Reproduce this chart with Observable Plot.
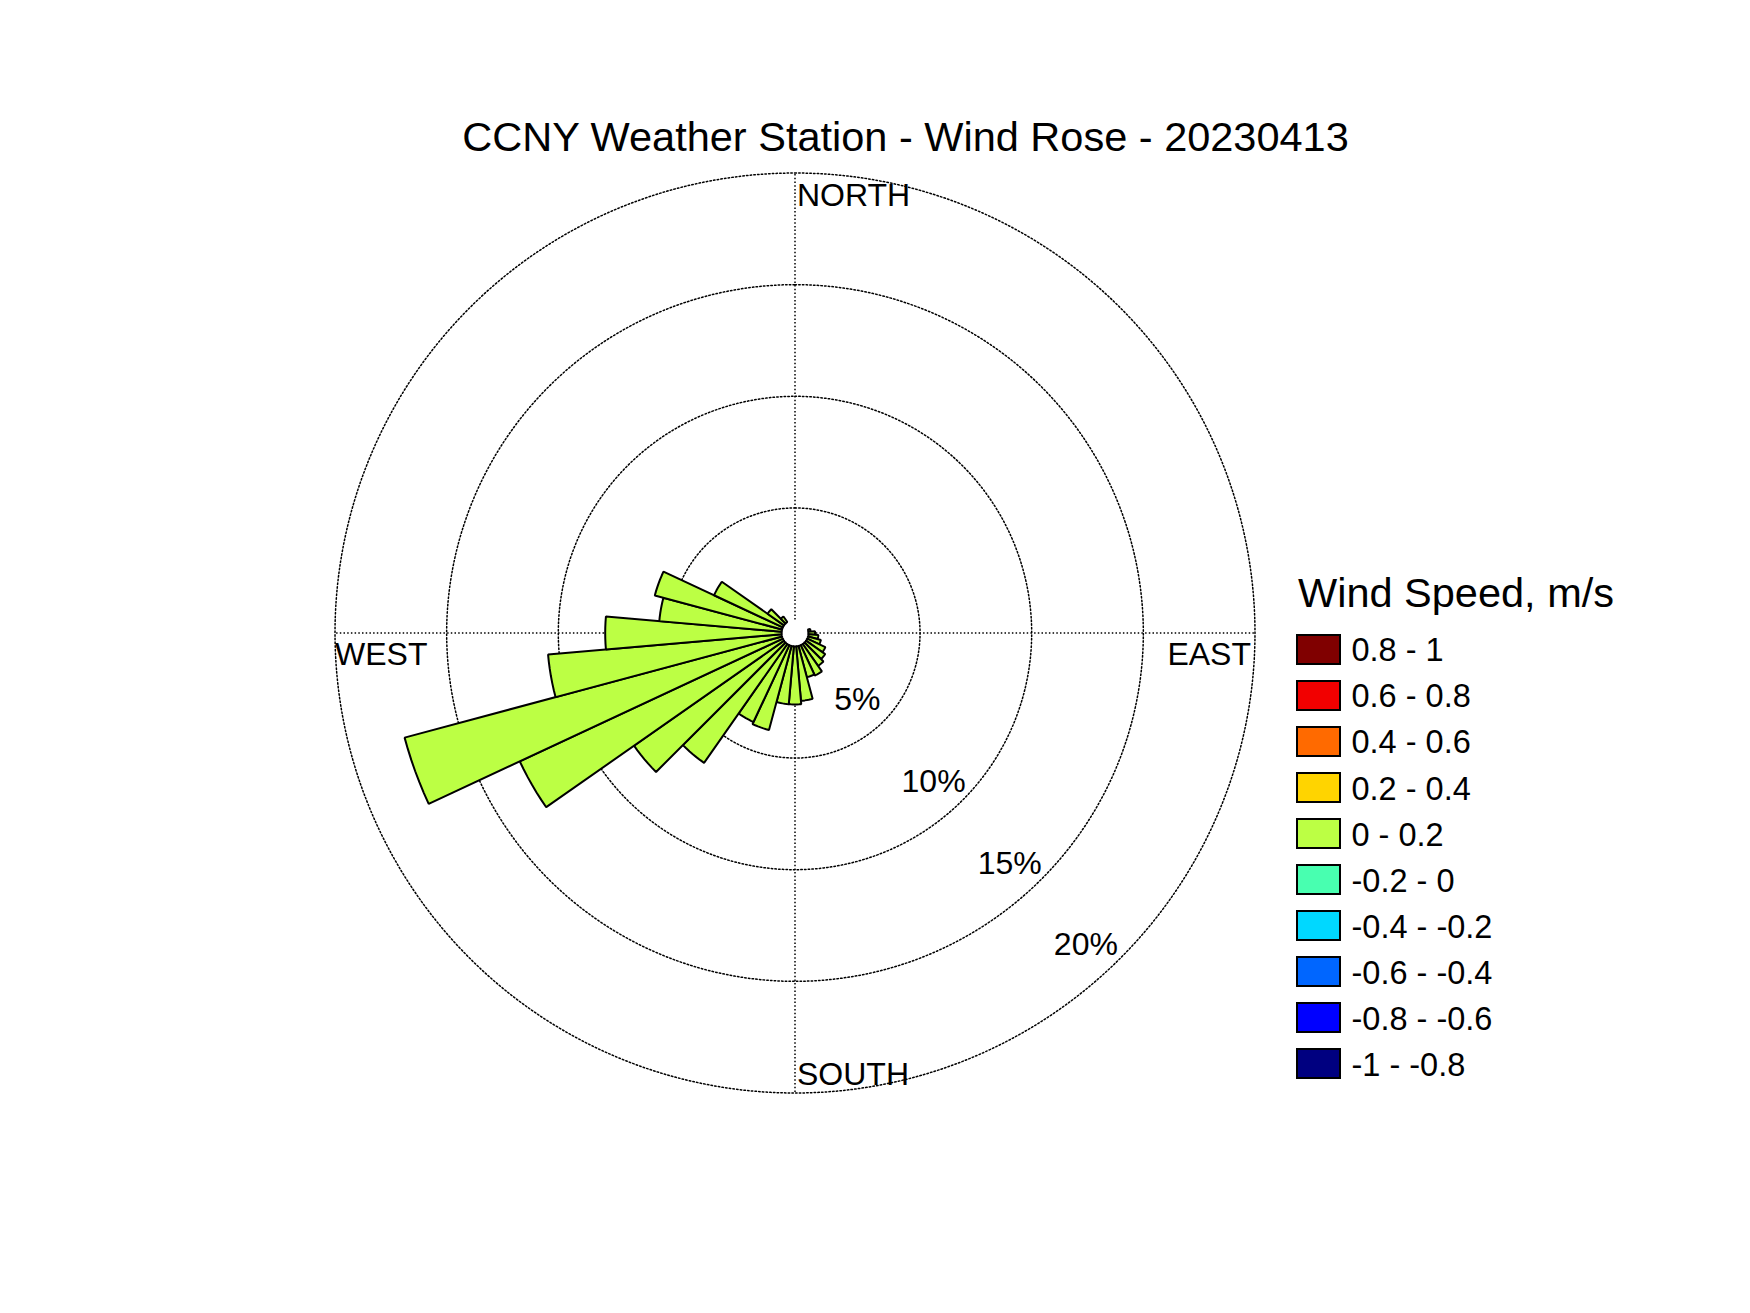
<!DOCTYPE html>
<html>
<head>
<meta charset="utf-8">
<script src="https://cdn.jsdelivr.net/npm/d3@7"></script>
<script src="https://cdn.jsdelivr.net/npm/@observablehq/plot@0.6"></script>
<style>
  body { margin: 0; background: #fff; }
  #fig { position: relative; width: 1750px; height: 1313px; overflow: hidden;
         font-family: "Liberation Sans", Arial, Helvetica, sans-serif; color: #000; background: #fff; }
  #fig svg { position: absolute; left: 0; top: 0; }
  #title { position: absolute; left: 905.5px; top: 116px; transform: translateX(-50%);
           font-size: 41.5px; line-height: 1; white-space: nowrap; }
  #legend-title { position: absolute; left: 1298px; top: 571.5px; font-size: 41.5px; line-height: 1; white-space: nowrap; }
  .item { position: absolute; left: 1296px; height: 31px; display: flex; align-items: center; }
  .sw { box-sizing: border-box; width: 45px; height: 31px; border: 2px solid #000; }
  .lab { margin-left: 10.5px; padding-top: 3px; font-size: 32.5px; line-height: 1; white-space: nowrap; }
</style>
</head>
<body>
<div id="fig"></div>
<script>
// ---------------- data ----------------
const title = "CCNY Weather Station - Wind Rose - 20230413";
const legendTitle = "Wind Speed, m/s";

// direction bins (compass degrees, 10° wide) and frequency (%) of the 0 - 0.2 m/s class
const directions = [0, 10, 20, 30, 40, 50, 60, 70, 80, 90, 100, 110, 120, 130, 140, 150, 160, 170,
                    180, 190, 200, 210, 220, 230, 240, 250, 260, 270, 280, 290, 300, 310, 320, 330, 340, 350];
const frequency  = [0, 0, 0, 0, 0, 0, 0, 0, 0.1, 0.3, 0.45, 0.6, 0.9, 1.05, 1.2, 1.5, 1.45, 2.45,
                    2.6, 2.6, 3.9, 3.8, 6.5, 8.2, 13.0, 17.5, 10.5, 7.9, 5.5, 5.9, 3.4, 0.9, 0.3, 0, 0, 0];

const ringValues = [5, 10, 15, 20];
const ringLabels = ["5%", "10%", "15%", "20%"];
const compassNames = ["NORTH", "EAST", "SOUTH", "WEST"];
const compassAngles = [0, 90, 180, 270];

const legendLabels = ["0.8 - 1", "0.6 - 0.8", "0.4 - 0.6", "0.2 - 0.4", "0 - 0.2",
                      "-0.2 - 0", "-0.4 - -0.2", "-0.6 - -0.4", "-0.8 - -0.6", "-1 - -0.8"];
const legendColors = ["#800000", "#f20000", "#ff6a00", "#ffd400", "#bcff44",
                      "#48ffb0", "#00d8ff", "#0066ff", "#0000ff", "#000080"];
const barColor = legendColors[4];

// ---------------- geometry helpers ----------------
const W = 1750, H = 1313;
const cx = 794.5, cy = 632.5;   // centre of the rose in the page
const k = 22.33;                // pixels per percent
const hole = 0.6;               // empty centre (in % units)
const halfWidth = 5;            // half sector width, degrees
const rad = a => a * Math.PI / 180;
const px = (r, a) => r * Math.sin(rad(a));
const py = (r, a) => r * Math.cos(rad(a));
const outerR = hole + ringValues[ringValues.length - 1];

// wedge polygons
const wedgePts = [];
directions.forEach((d, i) => {
  const v = frequency[i];
  if (!(v > 0)) return;
  const rOut = hole + v, seg = 6;
  for (let j = 0; j <= seg; j++) {
    const a = d - halfWidth + j * 2 * halfWidth / seg;
    wedgePts.push({id: d, x: px(hole, a), y: py(hole, a)});
  }
  for (let j = seg; j >= 0; j--) {
    const a = d - halfWidth + j * 2 * halfWidth / seg;
    wedgePts.push({id: d, x: px(rOut, a), y: py(rOut, a)});
  }
});

// ring circles
const ringPts = [];
ringValues.forEach(v => {
  for (let a = 0; a < 360; a += 1) ringPts.push({ring: v, x: px(hole + v, a), y: py(hole + v, a)});
});

// spokes
const spokes = compassAngles.map(a => ({x1: px(hole, a), y1: py(hole, a), x2: px(outerR, a), y2: py(outerR, a)}));

// ring labels along 137°
const labelAngle = 137;
const ringLabelData = ringValues.map((v, i) => ({label: ringLabels[i],
  x: px(hole + v - 1.5, labelAngle), y: py(hole + v - 1.5, labelAngle)}));

const compass = compassNames.map((n, i) => ({name: n, x: px(outerR, compassAngles[i]), y: py(outerR, compassAngles[i])}));

const dash = {stroke: "black", strokeWidth: 1.5, strokeDasharray: "1.5,2.2"};
const font = {fontSize: 32, fill: "black", lineAnchor: "middle"};

const chart = Plot.plot({
  width: W, height: H, margin: 0,
  x: {domain: [-cx / k, (W - cx) / k], axis: null},
  y: {domain: [-(H - cy) / k, cy / k], axis: null},
  style: {background: "transparent", fontFamily: "'Liberation Sans', Arial, Helvetica, sans-serif"},
  marks: [
    Plot.line(ringPts, {x: "x", y: "y", z: "ring", curve: "linear-closed", ...dash}),
    Plot.link(spokes, {x1: "x1", y1: "y1", x2: "x2", y2: "y2", ...dash}),
    Plot.line(wedgePts, {x: "x", y: "y", z: "id", curve: "linear-closed", fill: barColor,
                         stroke: "black", strokeWidth: 2, strokeLinejoin: "miter"}),
    Plot.text(compass.filter(d => d.name === "NORTH"), {x: "x", y: "y", text: "name", textAnchor: "start", dx: 2, dy: 23, ...font}),
    Plot.text(compass.filter(d => d.name === "SOUTH"), {x: "x", y: "y", text: "name", textAnchor: "start", dx: 2, dy: -18, ...font}),
    Plot.text(compass.filter(d => d.name === "WEST"), {x: "x", y: "y", text: "name", textAnchor: "start", dx: 0, dy: 22, ...font}),
    Plot.text(compass.filter(d => d.name === "EAST"), {x: "x", y: "y", text: "name", textAnchor: "end", dx: -4, dy: 22, ...font}),
    Plot.text(ringLabelData, {x: "x", y: "y", text: "label", textAnchor: "middle", ...font})
  ]
});

const fig = d3.select("#fig");
fig.node().appendChild(chart);
fig.append("div").attr("id", "title").text(title);
fig.append("div").attr("id", "legend-title").text(legendTitle);
legendLabels.forEach((lab, i) => {
  const item = fig.append("div").attr("class", "item").style("top", (633.5 + i * 46.1) + "px");
  item.append("div").attr("class", "sw").style("background", legendColors[i]);
  item.append("div").attr("class", "lab").text(lab);
});
</script>
</body>
</html>
